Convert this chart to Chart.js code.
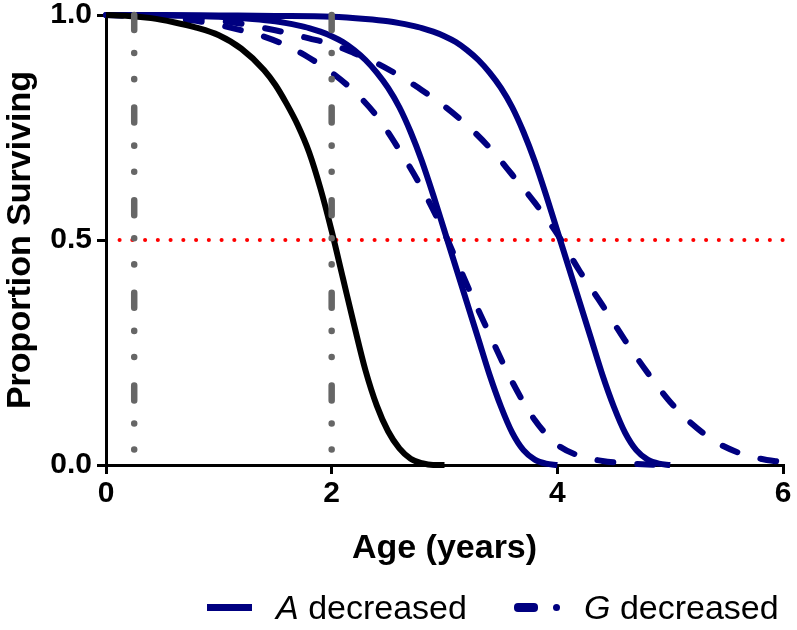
<!DOCTYPE html>
<html>
<head>
<meta charset="utf-8">
<script src="https://cdn.jsdelivr.net/npm/chart.js@4"></script>
<style>
  html, body { margin: 0; padding: 0; background: #fff; }
  #wrap { position: relative; width: 797px; height: 630px; }
  #legend { position: absolute; left: 0; top: 587px; width: 797px; height: 40px;
            font-family: "Liberation Sans", Arial, sans-serif; font-size: 34px; color: #000; }
  .item { position: absolute; top: 0; white-space: nowrap; line-height: 40px; }
  .sw { position: absolute; background: #000080; }
</style>
</head>
<body>
<div id="wrap">
  <canvas id="c" width="797" height="630"></canvas>
  <div id="legend">
    <span class="sw" style="left:207px; top:17px; width:45px; height:7px;"></span>
    <span class="item" style="left:276px;"><i>A</i> decreased</span>
    <span class="sw" style="left:514px; top:16px; width:24px; height:9px; border-radius:4px;"></span>
    <span class="sw" style="left:553px; top:17px; width:7px; height:7px; border-radius:4px;"></span>
    <span class="item" style="left:584px;"><i>G</i> decreased</span>
  </div>
</div>
<script>
// ---- data ----
const blackX = [0, 0.2, 0.4, 0.6, 0.8, 1.0, 1.2, 1.4, 1.5, 1.6, 1.7, 1.8, 1.9, 2.0, 2.1, 2.2, 2.3, 2.4, 2.5, 2.6, 2.7, 2.8, 2.9, 3.0];
const blackY = [1, 0.998, 0.993, 0.984, 0.972, 0.955, 0.925, 0.878, 0.845, 0.803, 0.755, 0.695, 0.615, 0.52, 0.415, 0.31, 0.21, 0.132, 0.075, 0.037, 0.014, 0.004, 0, 0];

const aDec1X = [0, 0.5, 1.0, 1.3, 1.5, 1.6, 1.7, 1.8, 1.9, 2.0, 2.1, 2.2, 2.3, 2.4, 2.5, 2.6, 2.7, 2.8, 2.9, 3.0, 3.1, 3.2, 3.3, 3.4, 3.5, 3.6, 3.7, 3.8, 3.9, 4.0];
const aDec1Y = [1, 0.999, 0.996, 0.991, 0.986, 0.982, 0.977, 0.971, 0.963, 0.953, 0.94, 0.922, 0.90, 0.872, 0.838, 0.795, 0.74, 0.675, 0.60, 0.52, 0.44, 0.36, 0.28, 0.20, 0.13, 0.072, 0.033, 0.012, 0.003, 0];

const aDec2X = [0, 0.5, 1.0, 1.5, 2.0, 2.3, 2.5, 2.6, 2.7, 2.8, 2.9, 3.0, 3.1, 3.2, 3.3, 3.4, 3.5, 3.6, 3.7, 3.8, 3.9, 4.0, 4.1, 4.2, 4.3, 4.4, 4.5, 4.6, 4.7, 4.8, 4.9, 5.0];
const aDec2Y = [1, 1, 0.999, 0.998, 0.996, 0.991, 0.986, 0.982, 0.977, 0.971, 0.963, 0.953, 0.94, 0.922, 0.90, 0.872, 0.838, 0.795, 0.74, 0.675, 0.60, 0.52, 0.44, 0.36, 0.28, 0.20, 0.13, 0.072, 0.033, 0.012, 0.003, 0];

const gDec1X = [0, 0.5, 0.8, 1.0, 1.2, 1.4, 1.6, 1.8, 2.0, 2.2, 2.4, 2.6, 2.8, 3.0, 3.2, 3.4, 3.6, 3.8, 4.0, 4.2, 4.4, 4.6, 4.8, 5.0];
const gDec1Y = [1, 0.995, 0.987, 0.978, 0.966, 0.952, 0.932, 0.905, 0.872, 0.83, 0.775, 0.70, 0.615, 0.515, 0.40, 0.29, 0.185, 0.10, 0.045, 0.02, 0.009, 0.004, 0.001, 0];

const gDec2X = [0, 0.5, 1.0, 1.5, 1.8, 2.0, 2.2, 2.4, 2.6, 2.8, 3.0, 3.2, 3.4, 3.6, 3.8, 4.0, 4.2, 4.4, 4.6, 4.8, 5.0, 5.2, 5.4, 5.6, 5.8, 6.0];
const gDec2Y = [1, 0.998, 0.988, 0.966, 0.948, 0.935, 0.915, 0.893, 0.865, 0.833, 0.797, 0.755, 0.705, 0.645, 0.583, 0.513, 0.43, 0.355, 0.277, 0.205, 0.14, 0.09, 0.052, 0.028, 0.014, 0.006];

const markerAges = [0.25, 2];
const medianLevel = 0.5;
const xTicks = [0, 2, 4, 6];
const yTicks = [0, 0.5, 1];
const xTitle = 'Age (years)';
const yTitle = 'Proportion Surviving';

// ---- build datasets ----
const zip = (xs, ys) => xs.map((x, i) => ({ x: x, y: ys[i] }));
const NAVY = '#000080';
const curve = (xs, ys, color, dash) => ({
  data: zip(xs, ys), borderColor: color, borderWidth: 6, borderDash: dash,
  borderCapStyle: dash.length ? 'round' : 'butt', borderJoinStyle: 'round',
  pointRadius: 0, cubicInterpolationMode: 'monotone', fill: false, clip: false, order: 1
});
const datasets = [];
markerAges.forEach(a => datasets.push({
  data: [{ x: a, y: 1 }, { x: a, y: 0.025 }], borderColor: '#666666', borderWidth: 6.5,
  borderDash: [15, 23, 0.1, 26, 0.1, 28.4], borderCapStyle: 'round', pointRadius: 0, clip: false, order: 0
}));
datasets.push(curve(blackX, blackY, '#000000', []));
datasets.push(curve(aDec1X, aDec1Y, NAVY, []));
datasets.push(curve(aDec2X, aDec2Y, NAVY, []));
datasets.push(curve(gDec1X, gDec1Y, NAVY, [16, 24]));
datasets.push(curve(gDec2X, gDec2Y, NAVY, [16, 24]));
datasets.push({
  data: [{ x: 0.12, y: medianLevel }, { x: 6, y: medianLevel }], borderColor: '#ff0000', borderWidth: 4,
  borderDash: [0.1, 12.65], borderCapStyle: 'round', pointRadius: 0, clip: false, order: 2
});

const FAM = '"Liberation Sans", Arial, sans-serif';
const tickFont = { family: FAM, size: 30, weight: 'bold' };
const titleFont = { family: FAM, size: 34, weight: 'bold' };

new Chart(document.getElementById('c'), {
  type: 'line',
  data: { datasets },
  options: {
    responsive: false, animation: false, devicePixelRatio: 1,
    layout: { padding: { left: 0, top: 15, right: 14, bottom: 57 } },
    plugins: { legend: { display: false }, tooltip: { enabled: false } },
    scales: {
      x: {
        type: 'linear', min: 0, max: 6,
        afterBuildTicks: s => { s.ticks = xTicks.map(v => ({ value: v })); },
        afterFit: s => { s.height = 108; s.paddingLeft = 0; s.paddingRight = 0; },
        ticks: { color: '#000', font: tickFont, padding: 2, maxRotation: 0, autoSkip: false },
        grid: { drawOnChartArea: false, drawTicks: true, tickLength: 9, color: '#000', lineWidth: 3 },
        border: { display: true, color: '#000', width: 3 },
        title: { display: true, text: xTitle, color: '#000', font: titleFont, padding: { top: 4, bottom: 4 } }
      },
      y: {
        type: 'linear', min: 0, max: 1,
        afterBuildTicks: s => { s.ticks = yTicks.map(v => ({ value: v })); },
        afterFit: s => { s.width = 106; s.paddingTop = 0; s.paddingBottom = 0; },
        ticks: { color: '#000', font: tickFont, padding: 5, callback: v => v.toFixed(1) },
        grid: { drawOnChartArea: false, drawTicks: true, tickLength: 9, color: '#000', lineWidth: 3 },
        border: { display: true, color: '#000', width: 3 },
        title: { display: true, text: yTitle, color: '#000', font: titleFont, padding: { top: 0, bottom: 0 } }
      }
    }
  }
});
</script>
</body>
</html>
